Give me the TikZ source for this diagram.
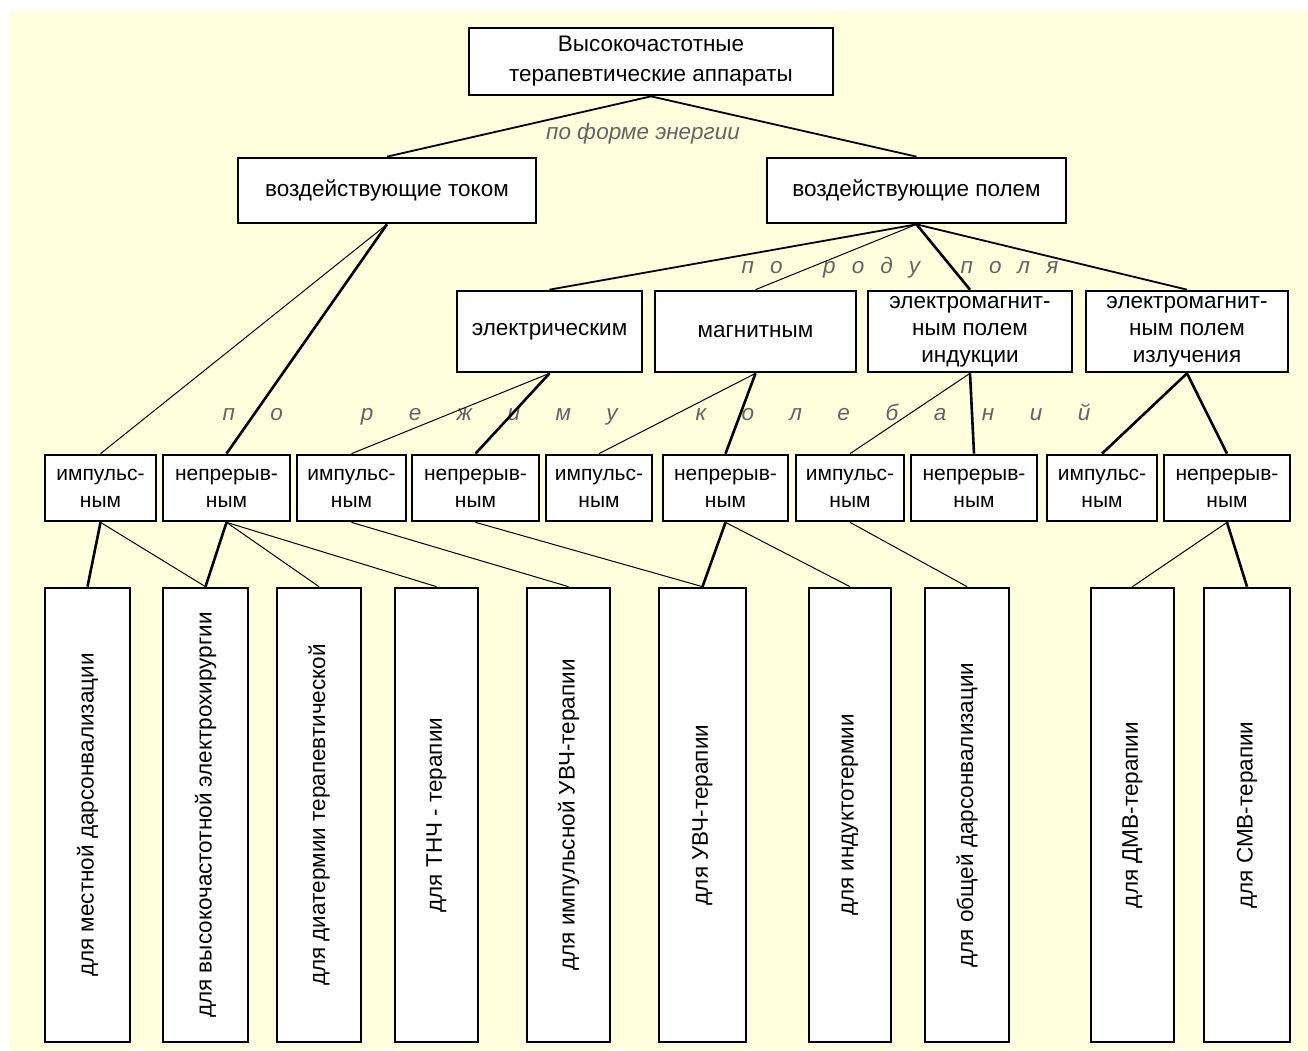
\documentclass[tikz,border=0pt]{standalone}
\usepackage{fontspec}
\setmainfont{Liberation Sans}
\newfontfamily\sparseA[LetterSpace=72]{Liberation Sans}
\newfontfamily\sparseB[LetterSpace=158]{Liberation Sans}
\definecolor{paper}{RGB}{255,255,221}
\definecolor{labelgray}{RGB}{100,100,100}
\tikzset{
  box/.style={draw, line width=2.7pt, fill=white, inner sep=0pt, align=center,
    font=\fontsize{22.5}{27}\selectfont},
  modebox/.style={box, minimum height=66pt, font=\fontsize{21}{27}\selectfont},
  usebox/.style={box, minimum height=454pt},
  thinlink/.style={line width=1pt},
  midlink/.style={line width=1.8pt},
  thicklink/.style={line width=2.6pt},
  split/.style={labelgray, font=\fontsize{22.5}{27}\selectfont\itshape}
}
\begin{document}
\begin{tikzpicture}[x=1pt,y=-1pt]
  \useasboundingbox (0,0) rectangle (1308,1050);
  \fill[white] (0,0) rectangle (1308,1050);
  \fill[paper] (9,11) rectangle (1308,1050);

  % levels 1 and 2
  \node[box, minimum width=364pt, minimum height=67pt, font=\fontsize{22.5}{30}\selectfont] (top) at (651,61.5)
    {Высокочастотные\\терапевтические аппараты};
  \node[box, minimum width=298pt, minimum height=65pt] (cur) at (387,190.5) {воздействующие током};
  \node[box, minimum width=299pt, minimum height=65pt] (field) at (916.5,190.5) {воздействующие полем};

  % level 3
  \node[box, minimum width=185pt, minimum height=81pt] (el) at (549.5,331.5) {электрическим};
  \node[box, minimum width=201pt, minimum height=81pt] (mag) at (755.5,331.5) {магнитным};
  \node[box, minimum width=204pt, minimum height=81pt] (ind) at (970,331.5) {электромагнит-\\ным полем\\индукции};
  \node[box, minimum width=202pt, minimum height=81pt] (rad) at (1187,331.5) {электромагнит-\\ным полем\\излучения};

  % level 4
  \node[modebox, minimum width=111pt] (imp1) at (100.5,488) {импульс-\\ным};
  \node[modebox, minimum width=127pt] (cont2) at (226.5,488) {непрерыв-\\ным};
  \node[modebox, minimum width=109pt] (imp3) at (351.5,488) {импульс-\\ным};
  \node[modebox, minimum width=127pt] (cont4) at (475.5,488) {непрерыв-\\ным};
  \node[modebox, minimum width=106pt] (imp5) at (599,488) {импульс-\\ным};
  \node[modebox, minimum width=125pt] (cont6) at (725.5,488) {непрерыв-\\ным};
  \node[modebox, minimum width=108pt] (imp7) at (850,488) {импульс-\\ным};
  \node[modebox, minimum width=126pt] (cont8) at (974,488) {непрерыв-\\ным};
  \node[modebox, minimum width=110pt] (imp9) at (1102,488) {импульс-\\ным};
  \node[modebox, minimum width=126pt] (cont10) at (1227,488) {непрерыв-\\ным};

  % apparatus
  \node[usebox, minimum width=85pt] (b1) at (87.5,815) {\rotatebox{90}{для местной дарсонвализации}};
  \node[usebox, minimum width=85pt] (b2) at (205.5,815) {\rotatebox{90}{для высокочастотной электрохирургии}};
  \node[usebox, minimum width=84pt] (b3) at (319,815) {\rotatebox{90}{для диатермии терапевтической}};
  \node[usebox, minimum width=83pt] (b4) at (436.5,815) {\rotatebox{90}{для ТНЧ - терапии}};
  \node[usebox, minimum width=83pt] (b5) at (568.5,815) {\rotatebox{90}{для импульсной УВЧ-терапии}};
  \node[usebox, minimum width=87pt] (b6) at (702.5,815) {\rotatebox{90}{для УВЧ-терапии}};
  \node[usebox, minimum width=82pt] (b7) at (850,815) {\rotatebox{90}{для индуктотермии}};
  \node[usebox, minimum width=84pt] (b8) at (967,815) {\rotatebox{90}{для общей дарсонвализации}};
  \node[usebox, minimum width=83pt] (b9) at (1132.5,815) {\rotatebox{90}{для ДМВ-терапии}};
  \node[usebox, minimum width=86pt] (b10) at (1247,815) {\rotatebox{90}{для СМВ-терапии}};

  % labels of the splits
  \node[split, anchor=base] (byform) at (643,139) {по форме энергии};
  \node[split, anchor=base west, font=\fontsize{22.5}{27}\selectfont\sparseA\itshape] (bykind) at (738,273)
    {по\hspace{18pt} роду\hspace{18pt} поля};
  \node[split, anchor=base west, font=\fontsize{22.5}{27}\selectfont\sparseB\itshape] (bymode) at (219,420)
    {по\hspace{36pt} режиму\hspace{36pt} колебаний};

  % links
  \draw[midlink] (top.south) -- (cur.north);
  \draw[midlink] (top.south) -- (field.north);

  \draw[midlink] (field.south) -- (el.north);
  \draw[thinlink] (field.south) -- (mag.north);
  \draw[thicklink] (field.south) -- (ind.north);
  \draw[midlink] (field.south) -- (rad.north);

  \draw[thinlink] (cur.south) -- (imp1.north);
  \draw[thicklink] (cur.south) -- (cont2.north);
  \draw[thinlink] (el.south) -- (imp3.north);
  \draw[thicklink] (el.south) -- (cont4.north);
  \draw[thinlink] (mag.south) -- (imp5.north);
  \draw[thicklink] (mag.south) -- (cont6.north);
  \draw[thinlink] (ind.south) -- (imp7.north);
  \draw[thicklink] (ind.south) -- (cont8.north);
  \draw[thicklink] (rad.south) -- (imp9.north);
  \draw[thicklink] (rad.south) -- (cont10.north);

  \draw[thicklink] (imp1.south) -- (b1.north);
  \draw[thinlink] (imp1.south) -- (b2.north);
  \draw[thicklink] (cont2.south) -- (b2.north);
  \draw[thinlink] (cont2.south) -- (b3.north);
  \draw[thinlink] (cont2.south) -- (b4.north);
  \draw[thinlink] (imp3.south) -- (b5.north);
  \draw[thinlink] (cont4.south) -- (b6.north);
  \draw[thicklink] (cont6.south) -- (b6.north);
  \draw[thinlink] (cont6.south) -- (b7.north);
  \draw[thinlink] (imp7.south) -- (b8.north);
  \draw[thinlink] (cont10.south) -- (b9.north);
  \draw[thicklink] (cont10.south) -- (b10.north);
\end{tikzpicture}
\end{document}
